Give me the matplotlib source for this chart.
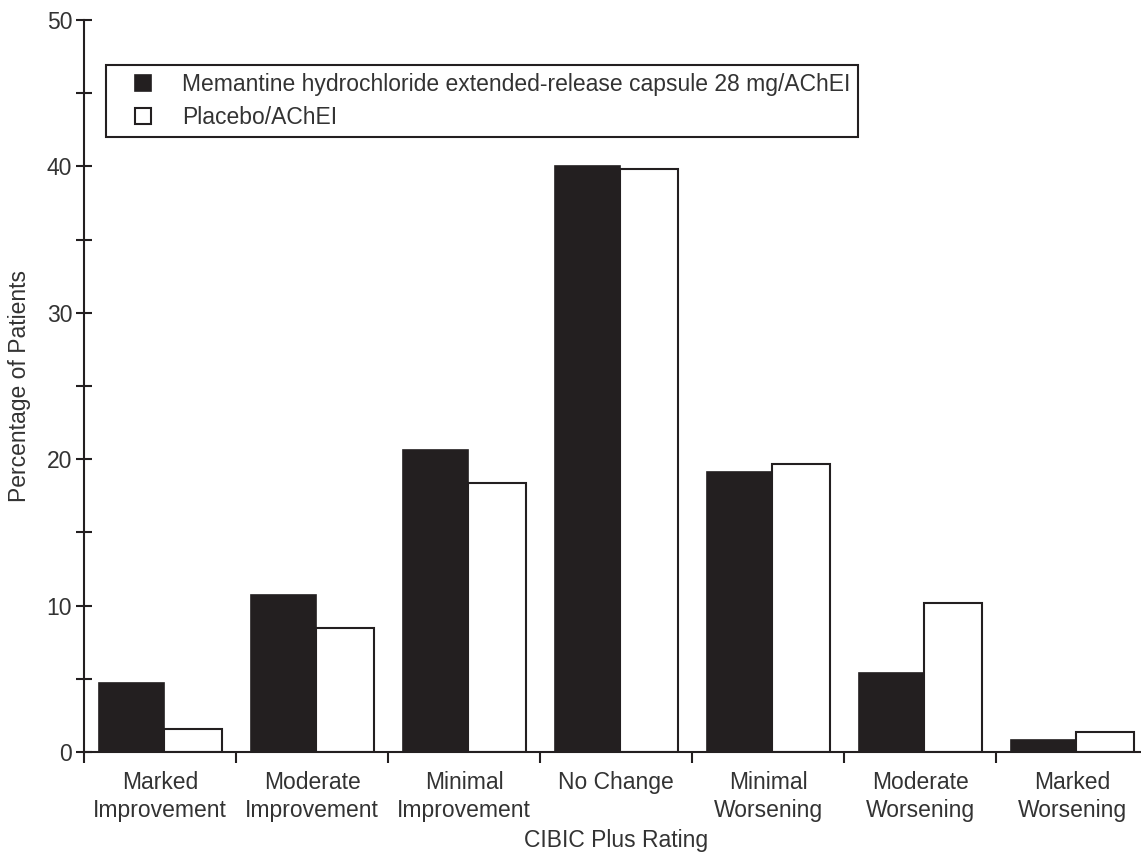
import numpy as np
import matplotlib
matplotlib.use("Agg")
import matplotlib.pyplot as plt
from matplotlib.lines import Line2D

plt.rcParams["font.family"] = ["Liberation Sans", "DejaVu Sans"]
plt.rcParams["font.size"] = 16.5

# CIBIC Plus kategorileri ve yuzdeler
categories = ["Marked\nImprovement", "Moderate\nImprovement", "Minimal\nImprovement",
              "No Change", "Minimal\nWorsening", "Moderate\nWorsening", "Marked\nWorsening"]
memantine = [4.7, 10.7, 20.6, 40.0, 19.1, 5.4, 0.8]
placebo = [1.6, 8.5, 18.4, 39.8, 19.7, 10.2, 1.4]
series_names = ["Memantine hydrochloride extended-release capsule 28 mg/AChEI",
                "Placebo/AChEI"]

INK = "#231f20"
TXT = "#333333"

fig = plt.figure(figsize=(11.41, 8.52), dpi=100)
ax = fig.add_axes([84 / 1141, 100 / 852, 1064 / 1141, 732 / 852])

x = np.arange(len(categories))
ax.bar(x - 0.40, memantine, 0.425, align="edge", color=INK, edgecolor=INK, linewidth=1.2)
ax.bar(x + 0.025, placebo, 0.385, align="edge", color="white", edgecolor=INK, linewidth=1.5)

ax.set_xlim(-0.5, len(categories) - 0.5)
ax.set_ylim(0, 50)

for s in ["top", "right"]:
    ax.spines[s].set_visible(False)
for s in ["left", "bottom"]:
    ax.spines[s].set_color(INK)
    ax.spines[s].set_linewidth(1.5)

# y ekseni: ana ve ara tikler
ax.set_yticks(np.arange(0, 51, 10))
ax.set_yticks(np.arange(5, 50, 10), minor=True)
ax.tick_params(axis="y", which="both", direction="inout", length=11, width=1.5,
               color=INK, pad=3, labelcolor=TXT)

# x ekseni: kategori sinirlarinda tik, etiketler ortada
ax.set_xticks(np.arange(-0.5, len(categories), 1.0))
ax.set_xticklabels([])
ax.set_xticks(x, minor=True)
ax.set_xticklabels(categories, minor=True, linespacing=1.25)
ax.tick_params(axis="x", which="major", direction="out", length=8, width=1.5, color=INK)
ax.tick_params(axis="x", which="minor", length=0, pad=14, labelcolor=TXT)

ax.set_ylabel("Percentage of Patients", color=TXT, labelpad=11)
ax.set_xlabel("CIBIC Plus Rating", color=TXT, labelpad=5)

handles = [Line2D([], [], linestyle="none", marker="s", markersize=11.5,
                  markerfacecolor=INK, markeredgecolor=INK, markeredgewidth=1.2),
           Line2D([], [], linestyle="none", marker="s", markersize=11.5,
                  markerfacecolor="white", markeredgecolor=INK, markeredgewidth=1.5)]
leg = fig.legend(handles, series_names, loc="upper left",
                 bbox_to_anchor=(106 / 1141, 1 - 65 / 852),
                 fancybox=False, edgecolor=INK, framealpha=1,
                 handlelength=2.5, handletextpad=0.45,
                 labelspacing=0.45, borderpad=0.35, borderaxespad=0)
leg.get_frame().set_linewidth(1.5)
for t in leg.get_texts():
    t.set_color(TXT)

fig.savefig("out.png", dpi=100)
